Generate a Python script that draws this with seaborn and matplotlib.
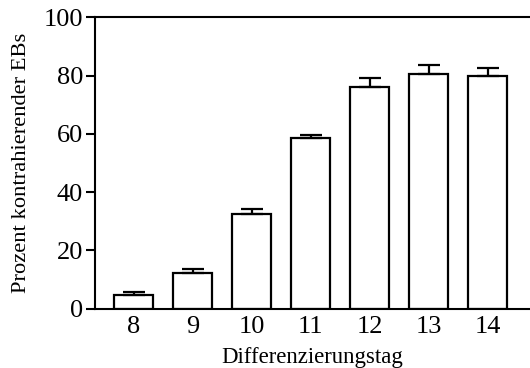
import numpy as np
import pandas as pd
import matplotlib
matplotlib.use("Agg")
import matplotlib.pyplot as plt
import seaborn as sns

# values
days = ["8", "9", "10", "11", "12", "13", "14"]
percent = [4.7, 12.1, 32.6, 58.7, 76.2, 80.6, 79.9]
err_up = [0.9, 1.6, 1.5, 0.9, 2.9, 3.0, 2.8]

sns.set_style("ticks", {"text.color": "black", "xtick.color": "black",
                        "ytick.color": "black", "axes.labelcolor": "black",
                        "axes.edgecolor": "black"})
plt.rcParams["font.family"] = ["Liberation Serif", "DejaVu Serif"]

df = pd.DataFrame({"tag": days, "prozent": percent})

fig = plt.figure(figsize=(5.3, 3.68), dpi=100)
ax = fig.add_axes([0.179, 0.161, 0.821, 0.792])

sns.barplot(data=df, x="tag", y="prozent", color="white", edgecolor="black",
            linewidth=1.6, width=0.67, errorbar=None, ax=ax)

# one-sided error bars
x = np.arange(len(days))
ax.errorbar(x, percent, yerr=[np.zeros(len(err_up)), err_up], fmt="none",
            ecolor="black", elinewidth=1.6, capsize=8, capthick=1.6, zorder=1)

ax.set_ylim(0, 100)
ax.set_xlim(-0.656, 6.72)
ax.set_yticks([0, 20, 40, 60, 80, 100])
ax.tick_params(axis="y", direction="out", length=6.5, width=1.5, labelsize=19,
               pad=2, colors="black")
ax.tick_params(axis="x", length=0, labelsize=19, pad=5, colors="black")

for side in ["left", "top", "bottom"]:
    ax.spines[side].set_linewidth(1.5)
    ax.spines[side].set_color("black")
ax.spines["right"].set_visible(False)

ax.set_xlabel("Differenzierungstag", fontsize=16.4, labelpad=7, color="black")
ax.set_ylabel("Prozent kontrahierender EBs", fontsize=16.2, labelpad=9, color="black")

fig.savefig("out.png", dpi=100)
